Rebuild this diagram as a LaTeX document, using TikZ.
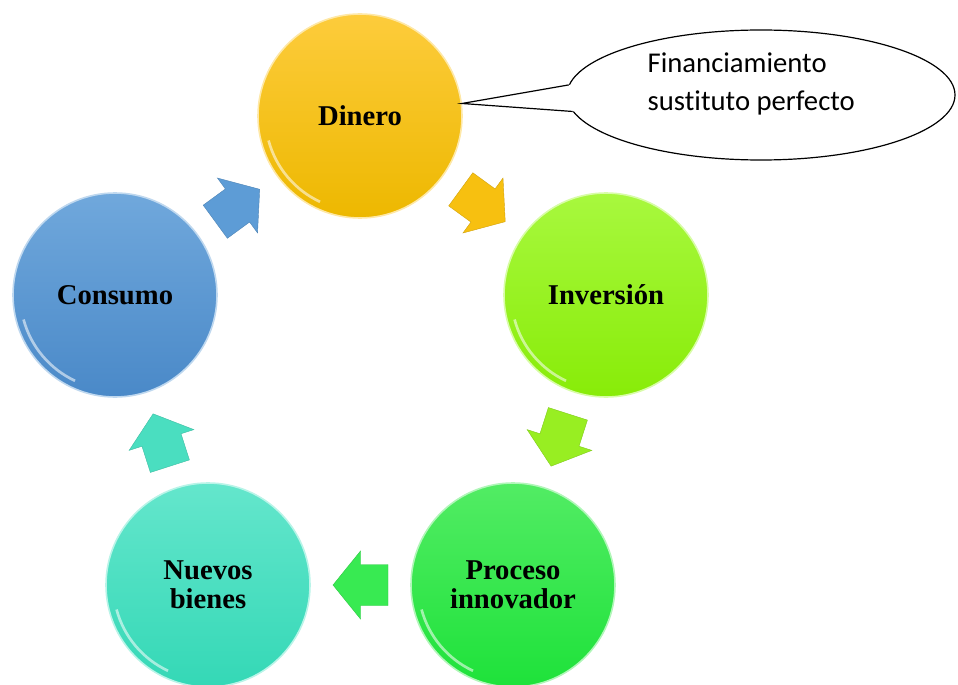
\documentclass[tikz,border=0pt]{standalone}
\usepackage{fontspec}
\setmainfont{Liberation Serif}
\newfontfamily\calibri[Ligatures=NoCommon]{Carlito}
\usetikzlibrary{calc,shapes.geometric}

\definecolor{dineroA}{HTML}{FDCC3C}
\definecolor{dineroB}{HTML}{EDB800}
\definecolor{dineroF}{HTML}{F7C010}
\definecolor{inversionA}{HTML}{A8F83E}
\definecolor{inversionB}{HTML}{88EC08}
\definecolor{inversionF}{HTML}{98EE22}
\definecolor{procesoA}{HTML}{52EC64}
\definecolor{procesoB}{HTML}{1EE23A}
\definecolor{procesoF}{HTML}{38EA52}
\definecolor{nuevosA}{HTML}{64E6CC}
\definecolor{nuevosB}{HTML}{34D8B6}
\definecolor{nuevosF}{HTML}{4ADEC0}
\definecolor{consumoA}{HTML}{70A8DC}
\definecolor{consumoB}{HTML}{4A89C8}
\definecolor{consumoF}{HTML}{5D9CD6}

\tikzset{
  etapa/.style 2 args={circle, minimum size=153pt, inner sep=0pt, align=center,
    top color=#1, bottom color=#2, draw=#1!45!white, line width=1.2pt,
    font=\fontsize{21.5}{22}\selectfont\bfseries},
  flecha/.pic={\path[pic actions] (-27.5,-20.5) -- (0,-20.5) -- (0,-34) -- (27.5,0)
    -- (0,34) -- (0,20.5) -- (-27.5,20.5) -- cycle;}
}

\begin{document}
\begin{tikzpicture}[x=0.75pt,y=-0.75pt]
  \useasboundingbox (0,0) rectangle (958,685);

  % etapas del ciclo
  \node[etapa={dineroA}{dineroB}] (dinero) at (360,116) {Dinero};
  \node[etapa={inversionA}{inversionB}] (inversion) at (606,295) {Inversión};
  \node[etapa={procesoA}{procesoB}] (proceso) at (513,585) {Proceso\\innovador};
  \node[etapa={nuevosA}{nuevosB}] (nuevos) at (208,585) {Nuevos\\bienes};
  \node[etapa={consumoA}{consumoB}] (consumo) at (115,295) {Consumo};

  % brillo del borde
  \foreach \n in {dinero,inversion,proceso,nuevos,consumo}
    \draw[white, opacity=0.55, line width=2pt] ($(\n)+(195:71pt)$)
      arc[start angle=195, end angle=245, radius=71pt];

  % flechas entre etapas
  \foreach \a/\b/\c in {dinero/inversion/dineroF, inversion/proceso/inversionF,
      proceso/nuevos/procesoF, nuevos/consumo/nuevosF, consumo/dinero/consumoF}
    \path let \p1=($(\b)-(\a)$) in ($(\a)!0.5!(\b)$)
      pic[fill=\c, draw=\c!85!black, line width=0.3pt, rotate={atan2(\y1,\x1)}] {flecha};

  % globo de la nota
  \node[ellipse, draw, fill=white, line width=0.9pt, minimum width=291pt,
    minimum height=97.5pt, inner sep=0pt] (nota) at (761,95) {};
  \coordinate (punta) at (dinero.7);
  \fill[white] (punta) -- (nota.177) -- ([xshift=4pt]nota.177)
    -- ([xshift=4pt]nota.185) -- (nota.185) -- cycle;
  \draw[line width=0.9pt] (nota.177) -- (punta) -- (nota.185);
  \node[anchor=base west, align=left, font=\calibri\fontsize{21.5}{28.5}\selectfont]
    (texto) at (643,111) {Financiamiento\\sustituto perfecto};

\end{tikzpicture}
\end{document}
